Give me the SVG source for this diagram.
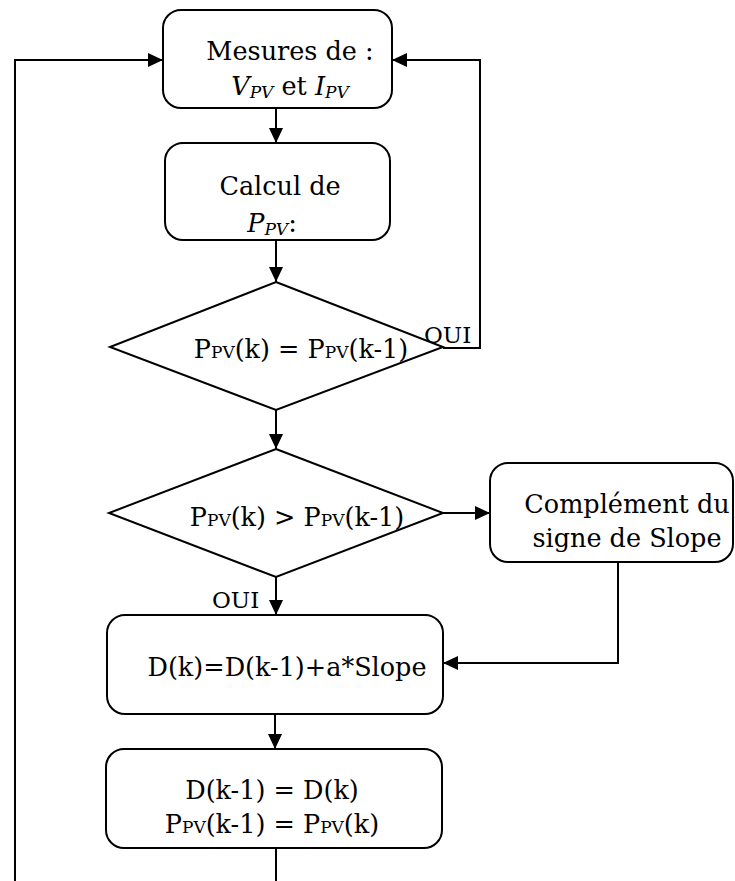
<svg xmlns="http://www.w3.org/2000/svg" width="735" height="881" viewBox="0 0 735 881">
<style>
.box{fill:#fff;stroke:#000;stroke-width:2}
.ln{fill:none;stroke:#000;stroke-width:2}
text{font-family:"DejaVu Serif","Liberation Serif",serif;font-size:25.5px;fill:#000}
.c{text-anchor:middle}
.sub{font-size:17px}
.lbl{font-size:23px}
</style>
<defs>
<marker id="ah" viewBox="0 0 15 14" refX="15" refY="7" markerWidth="15" markerHeight="14" markerUnits="userSpaceOnUse" orient="auto">
<path d="M0,0 L15,7 L0,14 z" fill="#000"/>
</marker>
</defs>
<rect width="735" height="881" fill="#fff"/>
<g id="connectors">
<polyline class="ln" points="15,881 15,60 163,60" marker-end="url(#ah)"/>
<polyline class="ln" points="443,348 480,348 480,60 392,60" marker-end="url(#ah)"/>
<line class="ln" x1="276" y1="108" x2="276" y2="143" marker-end="url(#ah)"/>
<line class="ln" x1="276" y1="240" x2="276" y2="282" marker-end="url(#ah)"/>
<line class="ln" x1="276" y1="410" x2="276" y2="449" marker-end="url(#ah)"/>
<line class="ln" x1="276" y1="577" x2="276" y2="615" marker-end="url(#ah)"/>
<line class="ln" x1="443" y1="513" x2="490" y2="513" marker-end="url(#ah)"/>
<polyline class="ln" points="618,562 618,663 443,663" marker-end="url(#ah)"/>
<line class="ln" x1="275" y1="714" x2="275" y2="749" marker-end="url(#ah)"/>
<line class="ln" x1="276" y1="848" x2="276" y2="881"/>
<text class="lbl" x="424" y="343">OUI</text>
<text class="lbl" x="212" y="608">OUI</text>
</g>
<g id="mesures">
<rect class="box" x="163" y="10" width="229" height="98" rx="18"/>
<text class="c" x="290" y="60">Mesures de :</text>
<text class="c" x="290" y="95"><tspan font-style="italic">V</tspan><tspan class="sub" font-style="italic" dy="3">PV</tspan><tspan dy="-3"> et </tspan><tspan font-style="italic">I</tspan><tspan class="sub" font-style="italic" dy="3">PV</tspan></text>
</g>
<g id="calcul">
<rect class="box" x="165" y="143" width="225" height="97" rx="18"/>
<text class="c" x="280" y="195">Calcul de</text>
<text class="c" x="272" y="232"><tspan font-style="italic">P</tspan><tspan class="sub" font-style="italic" dy="3">PV</tspan><tspan dy="-3">:</tspan></text>
</g>
<g id="test-egal">
<polygon class="box" points="276,282 443,347 276,410 110,347"/>
<text class="c" x="301" y="358">P<tspan class="sub">PV</tspan>(k) = P<tspan class="sub">PV</tspan>(k-1)</text>
</g>
<g id="test-sup">
<polygon class="box" points="276,449 443,513 276,577 109,513"/>
<text class="c" x="297" y="526">P<tspan class="sub">PV</tspan>(k) &gt; P<tspan class="sub">PV</tspan>(k-1)</text>
</g>
<g id="complement">
<rect class="box" x="490" y="463" width="243" height="99" rx="18"/>
<text class="c" x="627" y="513">Complément du</text>
<text class="c" x="627" y="547">signe de Slope</text>
</g>
<g id="maj-d">
<rect class="box" x="107" y="615" width="336" height="99" rx="18"/>
<text class="c" x="287" y="676">D(k)=D(k-1)+a*Slope</text>
</g>
<g id="memo">
<rect class="box" x="106" y="749" width="336" height="99" rx="18"/>
<text class="c" x="272" y="799">D(k-1) = D(k)</text>
<text class="c" x="272" y="833">P<tspan class="sub">PV</tspan>(k-1) = P<tspan class="sub">PV</tspan>(k)</text>
</g>
</svg>
